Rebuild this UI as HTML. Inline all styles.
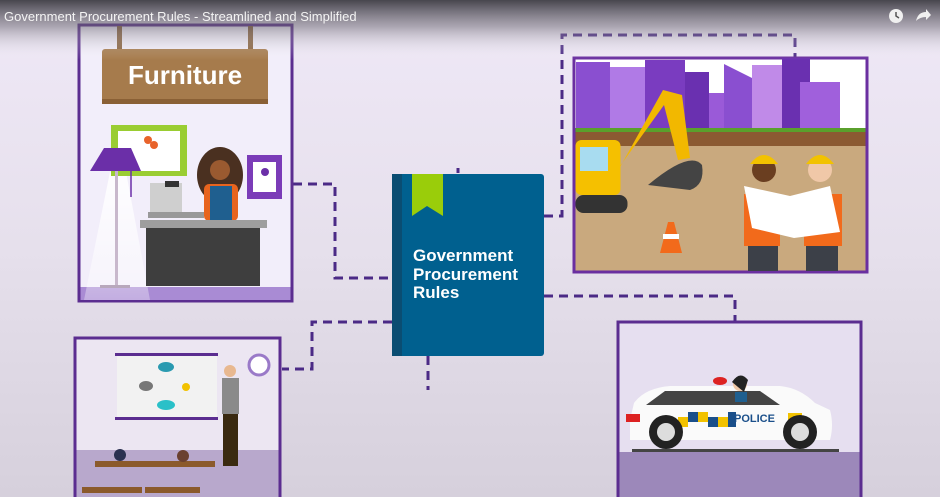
<!DOCTYPE html>
<html><head><meta charset="utf-8"><style>
html,body{margin:0;padding:0;width:940px;height:497px;overflow:hidden}
svg{display:block}
</style></head><body>
<svg width="940" height="497" viewBox="0 0 940 497" xmlns="http://www.w3.org/2000/svg" font-family="Liberation Sans, sans-serif">
<defs>
<linearGradient id="bg" x1="0" y1="0" x2="0" y2="1">
<stop offset="0" stop-color="#efe8f7"/><stop offset="0.5" stop-color="#e6e0ec"/><stop offset="1" stop-color="#d6d0dc"/>
</linearGradient>
<linearGradient id="top" x1="0" y1="0" x2="0" y2="1">
<stop offset="0" stop-color="#3e3d44" stop-opacity="0.95"/><stop offset="0.45" stop-color="#6a6670" stop-opacity="0.5"/><stop offset="1" stop-color="#ffffff" stop-opacity="0"/>
</linearGradient>
<linearGradient id="lamp" x1="0" y1="0" x2="0" y2="1">
<stop offset="0" stop-color="#ffffff" stop-opacity="0.9"/><stop offset="1" stop-color="#ffffff" stop-opacity="0.3"/>
</linearGradient>
</defs>
<rect width="940" height="497" fill="url(#bg)"/>

<!-- connectors -->
<g stroke="#4b2a86" stroke-width="3" fill="none" stroke-dasharray="9,6">
<path d="M293 184 H335 V278 H392"/>
<path d="M544 216 H562 V35 H795 V57"/>
<path d="M392 322 H312 V369 H282"/>
<path d="M544 296 H735 V322"/>
<path d="M428 356 V390"/>
<path d="M458 168 V173"/>
</g>

<!-- Furniture panel -->
<rect x="79" y="25" width="213" height="276" fill="#f2eefa" stroke="#5b2d90" stroke-width="3"/>
<rect x="80.5" y="287" width="210" height="13" fill="#a98bd4"/>
<polygon points="110,172 126,172 150,300 84,300" fill="url(#lamp)"/>
<rect x="117" y="26" width="5" height="24" fill="#8a6440"/>
<rect x="248" y="26" width="5" height="24" fill="#8a6440"/>
<rect x="102" y="49" width="166" height="55" rx="3" fill="#a67b4c"/>
<rect x="102" y="99" width="166" height="5" fill="#8a6035"/>
<text x="185" y="84" text-anchor="middle" font-size="26" font-weight="bold" fill="#fff">Furniture</text>
<rect x="111" y="125" width="76" height="51" fill="#9acd32"/>
<rect x="118" y="131" width="62" height="40" fill="#fff"/>
<circle cx="148" cy="140" r="4" fill="#e8632b"/><circle cx="154" cy="145" r="4" fill="#e8632b"/>
<polygon points="104,148 131,148 141,171 90,171" fill="#6b2fa8"/>
<rect x="115" y="171" width="3" height="115" fill="#c8b8cc"/>
<rect x="100" y="285" width="30" height="3" fill="#b8a8bc"/>
<line x1="131" y1="171" x2="131" y2="197" stroke="#6b2fa8" stroke-width="1.5"/>
<rect x="247" y="155" width="35" height="44" fill="#7b3cb8"/>
<rect x="253" y="162" width="23" height="30" fill="#fff"/>
<circle cx="265" cy="172" r="4" fill="#6b2fa8"/>
<!-- woman -->
<ellipse cx="220" cy="175" rx="23" ry="28" fill="#4a3020"/>
<circle cx="220" cy="170" r="10" fill="#9a5a30"/>
<rect x="204" y="184" width="34" height="37" rx="5" fill="#e8641e"/>
<rect x="210" y="186" width="22" height="35" fill="#1f5f8f"/>
<rect x="150" y="183" width="32" height="30" fill="#cfcfcf"/>
<rect x="165" y="181" width="14" height="6" fill="#333"/>
<rect x="148" y="212" width="56" height="6" fill="#999"/>
<rect x="140" y="220" width="127" height="8" fill="#9e9e9e"/>
<rect x="146" y="228" width="114" height="58" fill="#3e3e3e"/>

<!-- Construction panel -->
<rect x="574" y="58" width="293" height="214" fill="#fff" stroke="#6a2fa0" stroke-width="3"/>
<g fill="#8a4fd0">
<rect x="576" y="62" width="34" height="68"/><rect x="610" y="67" width="40" height="63" fill="#b07ae6"/>
<rect x="645" y="60" width="40" height="70" fill="#7a3cc0"/><rect x="685" y="72" width="24" height="58" fill="#6a30b0"/>
<rect x="709" y="93" width="40" height="37" fill="#9a5ad8"/><polygon points="724,64 752,78 752,130 724,130"/>
<rect x="752" y="65" width="32" height="65" fill="#c08ae8"/><rect x="782" y="58" width="28" height="72" fill="#6a30b0"/>
<rect x="800" y="82" width="40" height="48" fill="#a060dc"/>
</g>
<rect x="575.5" y="128" width="290" height="4" fill="#5aa02c"/>
<rect x="575.5" y="132" width="290" height="14" fill="#8b5a32"/>
<rect x="575.5" y="146" width="290" height="124.5" fill="#c9a97e"/>
<polygon points="595,212 663,90 682,95 690,158 678,160 664,105 610,180" fill="#f2b800"/>
<path d="M648 185 Q690 150 702 165 Q705 185 690 190 Z" fill="#444"/>
<rect x="575.5" y="140" width="45" height="55" rx="6" fill="#f5c000"/>
<rect x="580" y="147" width="28" height="24" fill="#a8dcf0"/>
<rect x="575.5" y="195" width="52" height="18" rx="8" fill="#333"/>
<polygon points="660,253 668,222 674,222 682,253" fill="#f26a1b"/>
<rect x="663" y="234" width="16" height="5" fill="#fff"/>
<!-- workers -->
<circle cx="764" cy="170" r="12" fill="#6a3e20"/><path d="M750 164 Q764 146 778 164 Z" fill="#f2c200"/>
<circle cx="820" cy="170" r="12" fill="#f0c8a8"/><path d="M806 164 Q820 146 834 164 Z" fill="#f2c200"/>
<rect x="744" y="194" width="36" height="52" fill="#f26a1b"/>
<rect x="804" y="194" width="38" height="52" fill="#f26a1b"/>
<rect x="748" y="246" width="30" height="25" fill="#3c4048"/><rect x="806" y="246" width="32" height="25" fill="#3c4048"/>
<polygon points="744,186 790,196 830,186 840,232 794,238 752,228" fill="#fff"/>

<!-- Book -->
<rect x="392" y="174" width="152" height="182" rx="3" fill="#00608f"/>
<rect x="392" y="174" width="10" height="182" fill="#0a4d72"/>
<polygon points="412,174 443,174 443,216 427,206 412,216" fill="#9acd0a"/>
<g font-size="17" font-weight="bold" fill="#fff">
<text x="413" y="261">Government</text><text x="413" y="280">Procurement</text><text x="413" y="298">Rules</text>
</g>

<!-- Classroom panel -->
<rect x="75" y="338" width="205" height="170" fill="#ece6f2" stroke="#5b2d90" stroke-width="3"/>
<rect x="76.5" y="450" width="202" height="50" fill="#b8a8cc"/>
<rect x="117" y="355" width="100" height="62" fill="#f2f2f2"/>
<rect x="115" y="353" width="103" height="3" fill="#5b2d90"/><rect x="115" y="417" width="103" height="3" fill="#5b2d90"/>
<ellipse cx="166" cy="367" rx="8" ry="5" fill="#2a9ab0"/><ellipse cx="146" cy="386" rx="7" ry="5" fill="#777"/>
<circle cx="186" cy="387" r="4" fill="#f2c200"/><ellipse cx="166" cy="405" rx="9" ry="5" fill="#2ac0c8"/>
<circle cx="259" cy="365" r="10" fill="#fff" stroke="#9a7ac8" stroke-width="3"/>
<circle cx="230" cy="371" r="6" fill="#e8b890"/>
<rect x="222" y="378" width="17" height="36" fill="#8a8a8a"/>
<rect x="223" y="414" width="15" height="52" fill="#3a2a10"/>
<rect x="95" y="461" width="60" height="6" fill="#8b5a2b"/><rect x="155" y="461" width="60" height="6" fill="#8b5a2b"/>
<rect x="82" y="487" width="60" height="6" fill="#8b5a2b"/><rect x="145" y="487" width="55" height="6" fill="#8b5a2b"/>
<circle cx="120" cy="455" r="6" fill="#2a3050"/><circle cx="183" cy="456" r="6" fill="#6a4030"/>

<!-- Police panel -->
<rect x="618" y="322" width="243" height="176" fill="#e6dff0" stroke="#5b2d90" stroke-width="3"/>
<rect x="619.5" y="452" width="240" height="45" fill="#9c88ba"/>
<rect x="632" y="449" width="207" height="3" fill="#444"/>
<path d="M630 420 L634 403 Q645 388 670 386 L780 386 Q800 388 815 403 L830 410 Q834 425 830 440 L630 440 Z" fill="#fafafa"/>
<path d="M646 405 L665 391 L760 391 L780 405 Z" fill="#444"/>
<rect x="626" y="414" width="14" height="8" fill="#d22"/>
<g fill="#f2c200"><rect x="678" y="417" width="10" height="10"/><rect x="698" y="412" width="10" height="10"/><rect x="718" y="417" width="10" height="10"/><rect x="788" y="413" width="14" height="10"/></g>
<g fill="#1a4f8a"><rect x="688" y="412" width="10" height="10"/><rect x="708" y="417" width="10" height="10"/><rect x="728" y="412" width="8" height="15"/></g>
<text x="734" y="422" font-size="11" font-weight="bold" fill="#1a4f8a">POLICE</text>
<circle cx="666" cy="432" r="17" fill="#222"/><circle cx="666" cy="432" r="9" fill="#ddd"/>
<circle cx="800" cy="432" r="17" fill="#222"/><circle cx="800" cy="432" r="9" fill="#ddd"/>
<ellipse cx="720" cy="381" rx="7" ry="4" fill="#d22"/>
<circle cx="740" cy="384" r="7" fill="#f0c8a8"/><path d="M732 382 Q740 370 748 380 L744 392 Z" fill="#222"/>
<rect x="735" y="392" width="12" height="10" fill="#1f5f8f"/>

<!-- top video overlay -->
<rect x="0" y="0" width="940" height="60" fill="url(#top)"/>
<text x="4" y="21" font-size="13" fill="#f4f4f4">Government Procurement Rules - Streamlined and Simplified</text>
<circle cx="896" cy="16" r="7" fill="#f0f0f0"/><path d="M896 12 V16 L899 18" stroke="#555" stroke-width="1.5" fill="none"/>
<path d="M916 21 Q918 12 926 12 V9 L931 15 L926 20 V17 Q920 17 916 21 Z" fill="#f0f0f0"/>
</svg>
</body></html>
